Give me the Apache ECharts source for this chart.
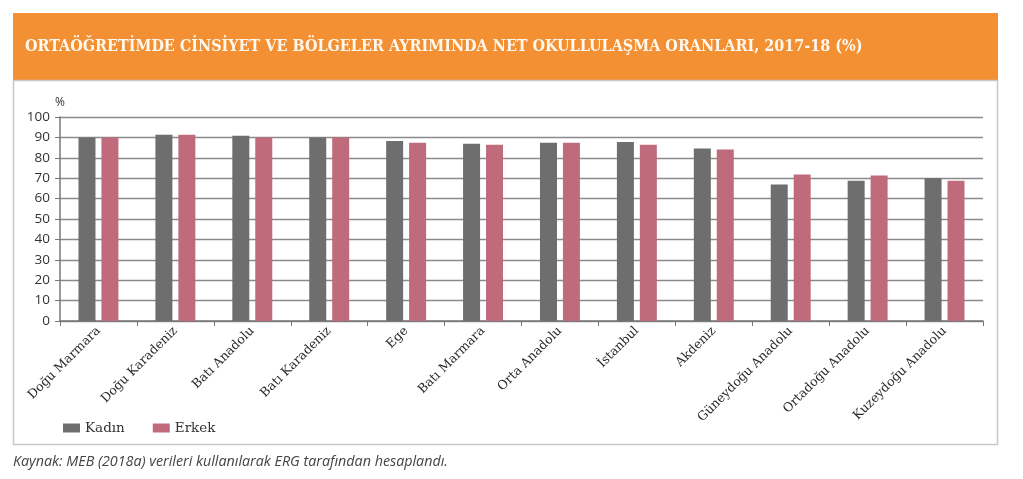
<!DOCTYPE html>
<html>
<head>
<meta charset="utf-8">
<script src="https://cdn.jsdelivr.net/npm/echarts@6/dist/echarts.min.js"></script>
<style>
html,body{margin:0;padding:0;background:#fff;}
#chart{width:1023px;height:479px;}
</style>
</head>
<body>
<div id="chart"></div>
<script>
var titleText = 'ORTAÖĞRETİMDE CİNSİYET VE BÖLGELER AYRIMINDA NET OKULLULAŞMA ORANLARI, 2017-18 (%)';
var sourceText = 'Kaynak: MEB (2018a) verileri kullanılarak ERG tarafından hesaplandı.';
var categories = ['Doğu Marmara','Doğu Karadeniz','Batı Anadolu','Batı Karadeniz','Ege','Batı Marmara','Orta Anadolu','İstanbul','Akdeniz','Güneydoğu Anadolu','Ortadoğu Anadolu','Kuzeydoğu Anadolu'];
var kadin = [90.0, 91.3, 90.8, 90.0, 88.2, 86.9, 87.4, 87.7, 84.6, 66.9, 68.7, 70.0];
var erkek = [90.0, 91.3, 89.9, 90.0, 87.4, 86.4, 87.4, 86.4, 84.1, 71.8, 71.3, 68.7];
var seriesNames = ['Kadın','Erkek'];
var yTicks = [0,10,20,30,40,50,60,70,80,90,100];

var chart = echarts.init(document.getElementById('chart'), null, {renderer:'canvas'});
var serif = '"DejaVu Serif", serif';
chart.setOption({
  animation:false,
  backgroundColor:'#fff',
  graphic:[
    {type:'rect', shape:{x:13,y:13,width:985,height:67}, style:{fill:'#f39033'}, z:-10},
    {type:'rect', shape:{x:13.5,y:80.5,width:984,height:364}, style:{fill:'none',stroke:'#c8c8c8',lineWidth:1.5}, z:-10},
    {type:'text', left:25, top:39, style:{text:titleText, fill:'#fff8ee', font:'bold 16px "DejaVu Serif Condensed", "DejaVu Serif", serif'}},
    {type:'text', left:13, top:455, style:{text:sourceText, fill:'#444', font:'italic 14.3px "Open Sans", sans-serif'}}
  ],
  grid:{left:60, right:40, top:117, bottom:158, containLabel:false},
  legend:{
    left:58, top:416, itemWidth:17, itemHeight:9, itemGap:28, icon:'rect',
    textStyle:{fontFamily:serif, fontSize:13.5, color:'#333'},
    data:seriesNames
  },
  xAxis:{
    type:'category', data:categories,
    axisLine:{lineStyle:{color:'#777',width:1.5}},
    axisTick:{show:true, length:5, lineStyle:{color:'#777'}},
    axisLabel:{rotate:45, interval:0, fontFamily:serif, fontSize:12.5, color:'#2a2a2a', margin:8}
  },
  yAxis:{
    type:'value', min:0, max:100, interval:10,
    name:'%', nameLocation:'end', nameGap:8,
    nameTextStyle:{fontFamily:'"Open Sans", sans-serif', fontSize:12, color:'#333', align:'center', padding:[0,0,0,0]},
    axisLine:{show:true, lineStyle:{color:'#777',width:1.5}},
    axisTick:{show:true, length:5, lineStyle:{color:'#777'}},
    splitLine:{lineStyle:{color:'#8a8a8a',width:1.3}},
    axisLabel:{fontFamily:'"Open Sans", sans-serif', fontSize:13.5, color:'#333', margin:10,
      formatter:function(v){return yTicks.indexOf(v)>=0?String(v):'';}}
  },
  series:[
    {name:seriesNames[0], type:'bar', data:kadin, barWidth:17, barGap:'35%', itemStyle:{color:'#6e6e6e'}},
    {name:seriesNames[1], type:'bar', data:erkek, barWidth:17, barGap:'35%', itemStyle:{color:'#bf6b7b'}}
  ]
});
</script>
</body>
</html>
